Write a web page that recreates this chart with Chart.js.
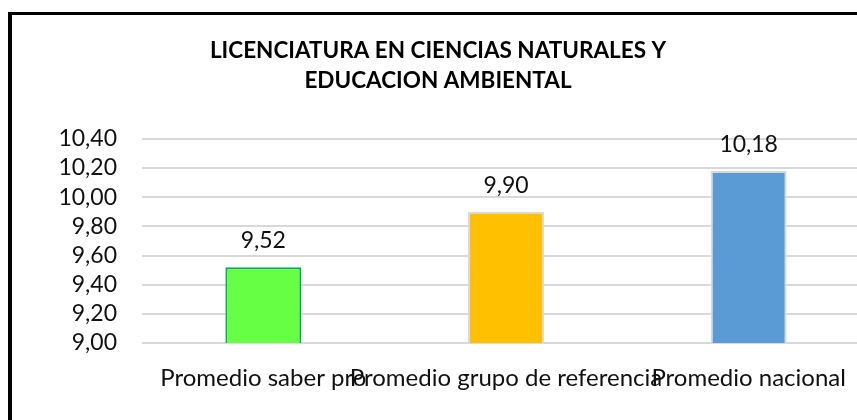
<!DOCTYPE html>
<html>
<head>
<meta charset="utf-8">
<script src="https://cdn.jsdelivr.net/npm/chart.js@4.4.1/dist/chart.umd.min.js"></script>
<style>
html,body{margin:0;padding:0;background:#fff;overflow:hidden;}
#wrap{position:relative;width:857px;height:420px;overflow:hidden;}
#frame{position:absolute;left:8px;top:12px;width:900px;height:460px;border-top:3px solid #000;border-left:4px solid #000;box-sizing:border-box;}
#chart{position:absolute;left:0;top:0;}
</style>
</head>
<body>
<div id="wrap">
<div id="frame"></div>
<canvas id="chart" width="872" height="420"></canvas>
</div>
<script>
// datos
const categorias=["Promedio saber pro","Promedio grupo de referencia","Promedio nacional"];
const valores=[9.52,9.90,10.18];
const colores=["#66FF44","#FFC000","#5B9BD5"];
const bordes=["#00B050","#D9D9D9","#D9D9D9"];
const titulo=["LICENCIATURA EN CIENCIAS NATURALES Y","EDUCACION AMBIENTAL"];
const yMin=9.0,yMax=10.4,yPaso=0.2;

const fmt=v=>Number(v).toFixed(2).replace(".",",");

// etiquetas encima de las barras
const etiquetas={
id:"etiquetas",
afterDatasetsDraw(chart){
const ctx=chart.ctx;
const meta=chart.getDatasetMeta(0);
ctx.save();
ctx.font="23px Lato";
ctx.fillStyle="#111";
ctx.textAlign="center";
ctx.textBaseline="alphabetic";
meta.data.forEach((bar,i)=>{
ctx.fillText(fmt(valores[i]),bar.x,bar.y-19);
});
ctx.restore();
}
};

new Chart(document.getElementById("chart"),{
type:"bar",
data:{
labels:categorias,
datasets:[{
data:valores,
backgroundColor:colores,
borderColor:bordes,
borderWidth:2,
barPercentage:0.313,
categoryPercentage:1
}]
},
options:{
responsive:false,
maintainAspectRatio:false,
animation:false,
layout:{padding:{top:0,right:2,bottom:0,left:6}},
plugins:{
legend:{display:false},
tooltip:{enabled:false},
title:{
display:true,
text:titulo,
color:"#000",
font:{family:"Lato",size:22.5,weight:"bold",lineHeight:1.33},
padding:{top:36,bottom:43}
}
},
scales:{
x:{
grid:{display:false,drawTicks:false},
border:{display:false},
ticks:{color:"#111",font:{family:"Lato",size:24},padding:21,autoSkip:false,maxRotation:0,minRotation:0},
afterFit(s){s.height=77;}
},
y:{
min:yMin,max:yMax,
grid:{color:"#D9D9D9",lineWidth:2,drawTicks:false},
border:{display:false},
ticks:{stepSize:yPaso,autoSkip:false,color:"#111",font:{family:"Lato",size:23},padding:25,callback:v=>fmt(v)},
afterFit(s){s.width=136;}
}
}
},
plugins:[etiquetas]
});
</script>
</body>
</html>
